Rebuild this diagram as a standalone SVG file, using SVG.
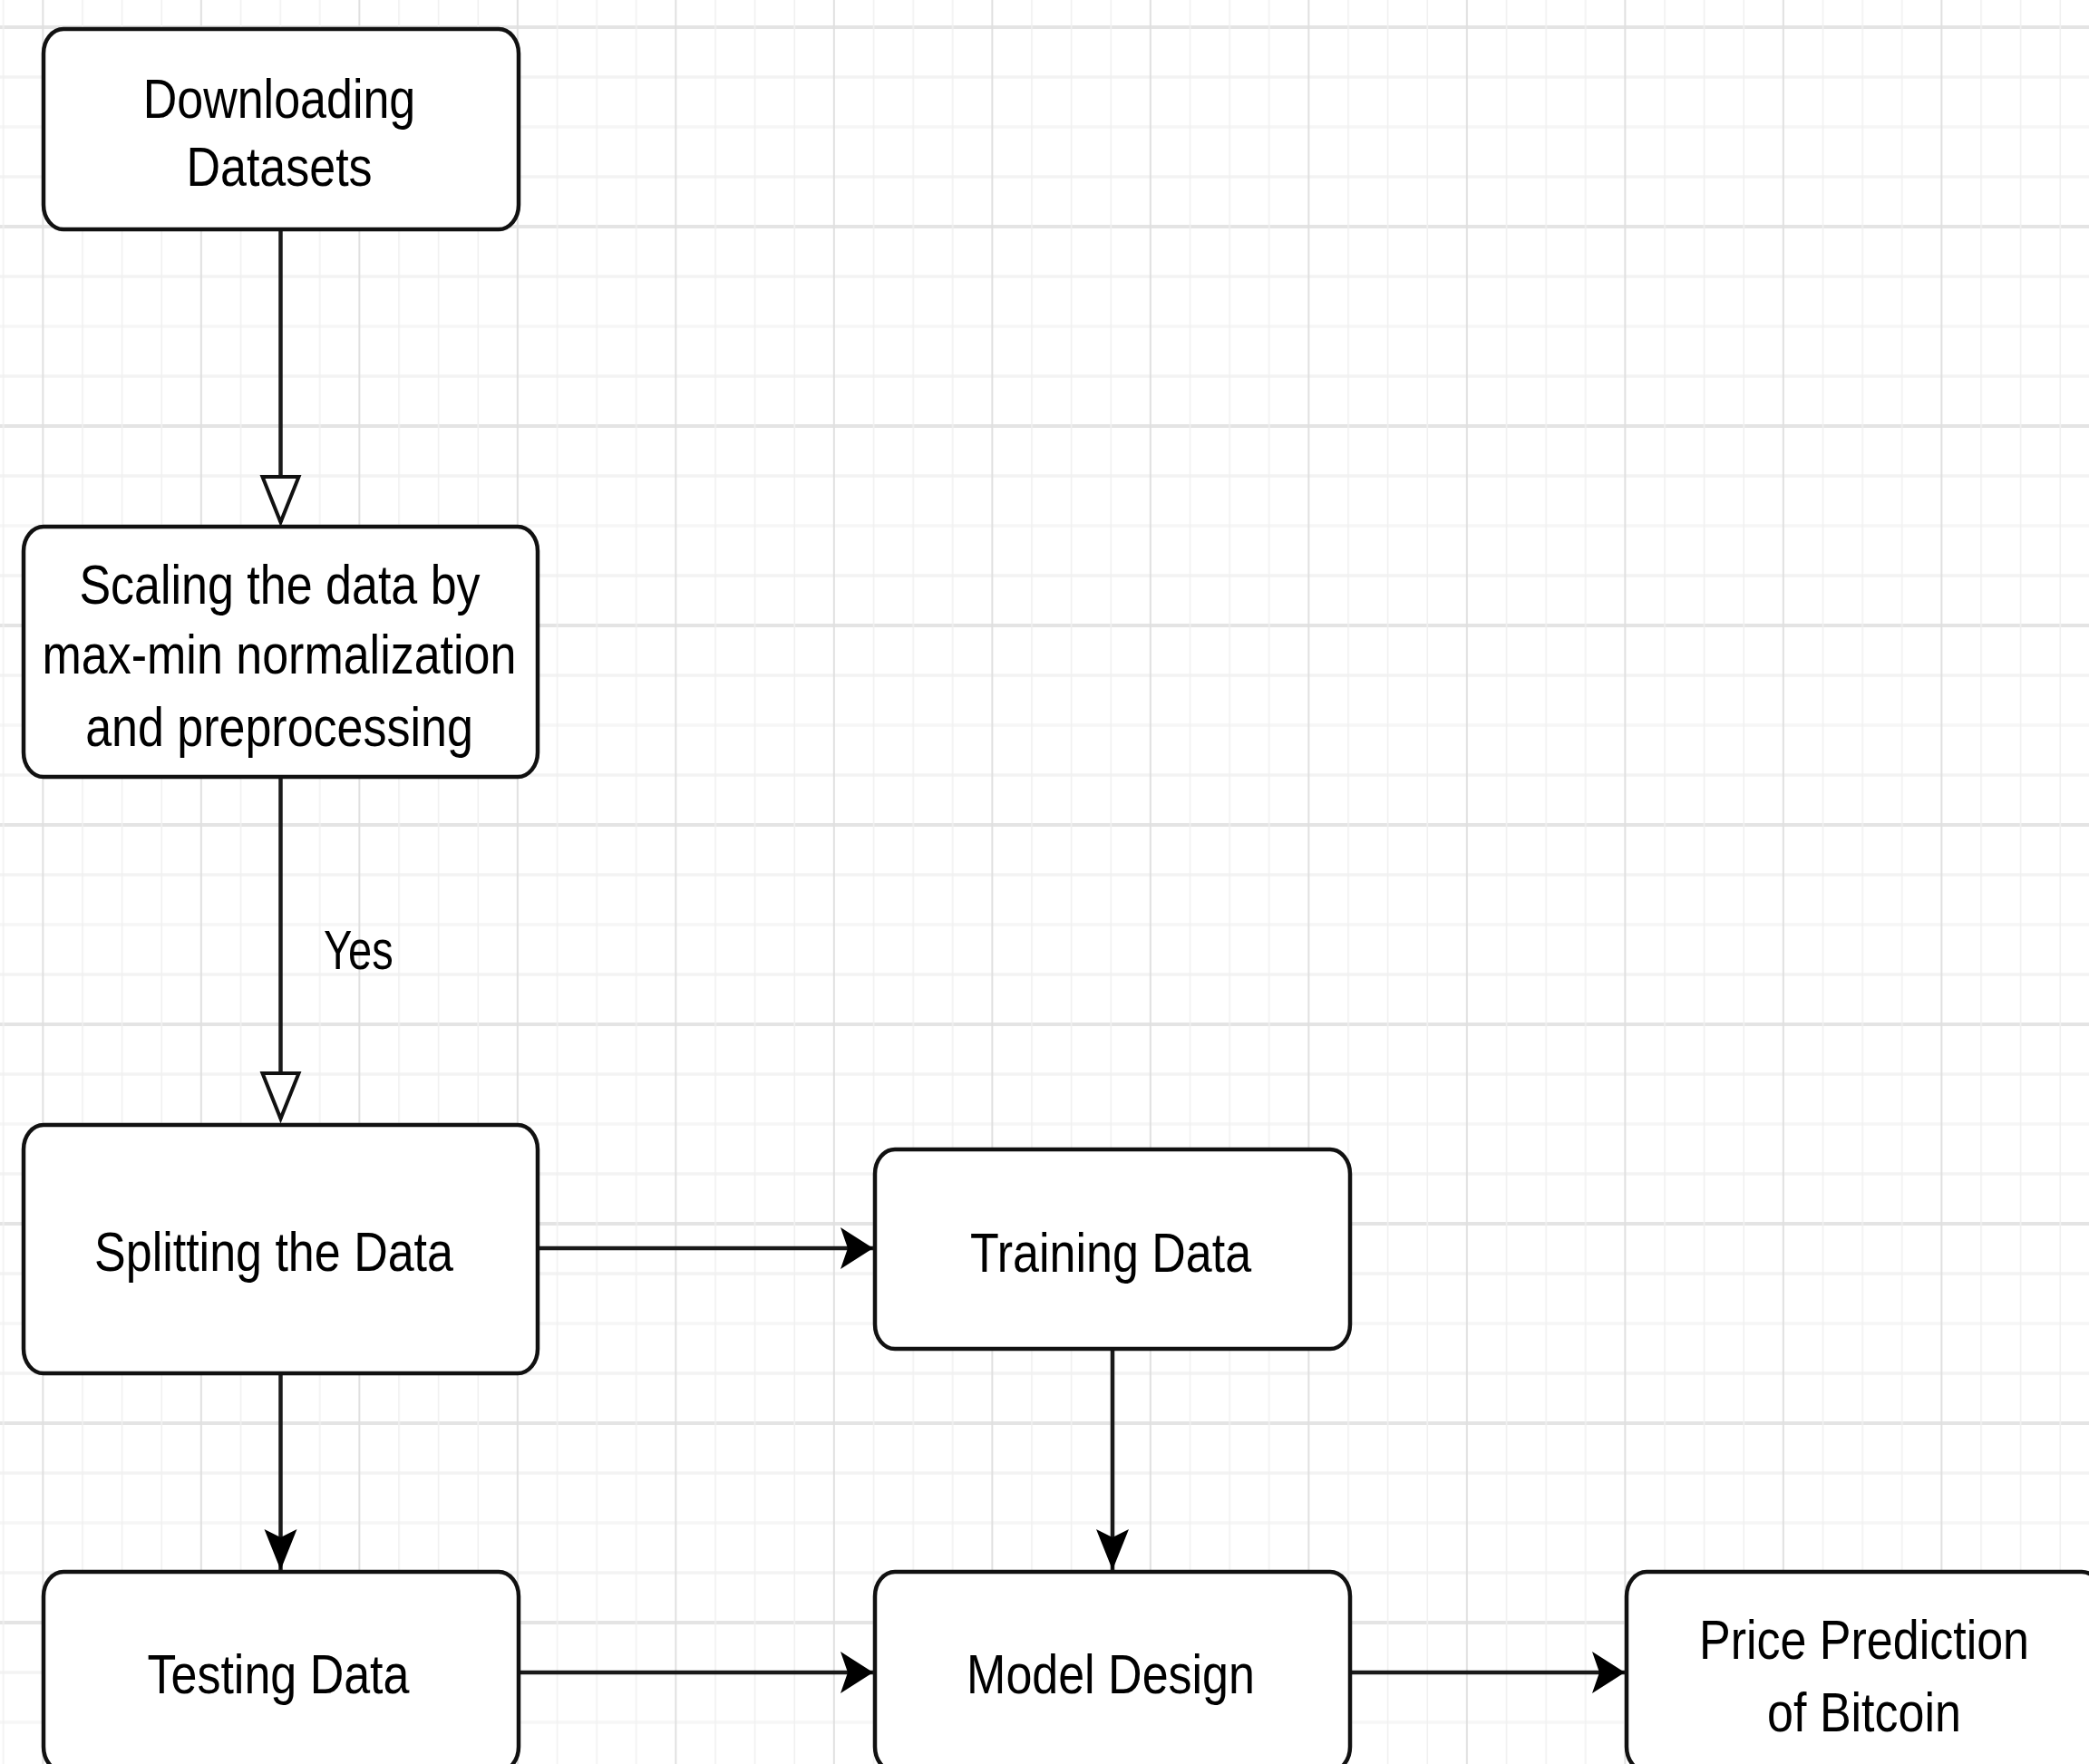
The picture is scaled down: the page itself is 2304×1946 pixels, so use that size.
<svg xmlns="http://www.w3.org/2000/svg" width="2304" height="1946" viewBox="0 0 2304 1946">
  <style>
    .node rect { fill: #ffffff; stroke: #111111; stroke-width: 4.5; }
    .lbl { font-family: "Liberation Sans", Arial, sans-serif; font-size: 52px; fill: #000000; text-anchor: middle; }
    .elbl { font-family: "Liberation Sans", Arial, sans-serif; font-size: 47px; fill: #000000; }
    .edge { fill: none; stroke: #1a1a1a; stroke-width: 4.5; }
  </style>
  <defs>
    <pattern id="gridV" patternUnits="userSpaceOnUse" x="27.4" y="0" width="174.5" height="20">
      <line x1="20" y1="0" x2="20" y2="20" stroke="#e0e0e0" stroke-width="2"/>
      <line x1="63.625" y1="0" x2="63.625" y2="20" stroke="#f0f0f0" stroke-width="1.6"/>
      <line x1="107.25" y1="0" x2="107.25" y2="20" stroke="#f0f0f0" stroke-width="1.6"/>
      <line x1="150.875" y1="0" x2="150.875" y2="20" stroke="#f0f0f0" stroke-width="1.6"/>
    </pattern>
    <pattern id="gridH" patternUnits="userSpaceOnUse" x="0" y="10" width="20" height="220">
      <line x1="0" y1="20" x2="20" y2="20" stroke="#e4e4e4" stroke-width="4"/>
      <line x1="0" y1="75" x2="20" y2="75" stroke="#f3f3f3" stroke-width="3.5"/>
      <line x1="0" y1="130" x2="20" y2="130" stroke="#f6f6f6" stroke-width="3.5"/>
      <line x1="0" y1="185" x2="20" y2="185" stroke="#f3f3f3" stroke-width="3.5"/>
    </pattern>
    <marker id="hollowDown" markerUnits="userSpaceOnUse" orient="auto" markerWidth="80" markerHeight="80" refX="50" refY="0" overflow="visible">
      <path d="M0,-20 L50,0 L0,20 Z" fill="#ffffff" stroke="#111111" stroke-width="4"/>
    </marker>
    <marker id="arrowRight" markerUnits="userSpaceOnUse" orient="auto" markerWidth="60" markerHeight="60" refX="36" refY="0" overflow="visible">
      <path d="M0,-23 L36,0 L0,23 L8,0 Z" fill="#000000"/>
    </marker>
    <marker id="arrowDown" markerUnits="userSpaceOnUse" orient="auto" markerWidth="60" markerHeight="60" refX="45" refY="0" overflow="visible">
      <path d="M0,-18 L45,0 L0,18 L9,0 Z" fill="#000000"/>
    </marker>
  </defs>

  <rect x="0" y="0" width="2304" height="1946" fill="#ffffff"/>
  <rect x="0" y="0" width="2304" height="1946" fill="url(#gridH)"/>
  <rect x="0" y="0" width="2304" height="1946" fill="url(#gridV)"/>

  <g id="connectors">
    <path class="edge" d="M309.5,253 V576" marker-end="url(#hollowDown)"/>
    <path class="edge" d="M309.5,857 V1234" marker-end="url(#hollowDown)"/>
    <path class="edge" d="M593,1377 H963" marker-end="url(#arrowRight)"/>
    <path class="edge" d="M309.5,1515 V1732" marker-end="url(#arrowDown)"/>
    <path class="edge" d="M1227,1488 V1732" marker-end="url(#arrowDown)"/>
    <path class="edge" d="M571,1845 H963" marker-end="url(#arrowRight)"/>
    <path class="edge" d="M1489,1845 H1792" marker-end="url(#arrowRight)"/>
    <text class="elbl" transform="translate(357,1069) scale(1,1.3)" x="0" y="0">Yes</text>
  </g>

  <g id="node-downloading" class="node">
    <rect x="48" y="32" width="524" height="221" rx="22" ry="27"/>
    <text class="lbl" transform="translate(308,130) scale(1,1.16)" x="0" y="0">Downloading</text>
    <text class="lbl" transform="translate(308,205) scale(1,1.16)" x="0" y="0">Datasets</text>
  </g>

  <g id="node-scaling" class="node">
    <rect x="26" y="581" width="567" height="276" rx="22" ry="27"/>
    <text class="lbl" transform="translate(308.5,666) scale(1,1.16)" x="0" y="0">Scaling the data by</text>
    <text class="lbl" transform="translate(308,743) scale(1,1.16)" x="0" y="0">max-min normalization</text>
    <text class="lbl" transform="translate(308,823) scale(1,1.16)" x="0" y="0">and preprocessing</text>
  </g>

  <g id="node-splitting" class="node">
    <rect x="26" y="1241" width="567" height="274" rx="22" ry="27"/>
    <text class="lbl" transform="translate(302,1402) scale(1,1.16)" x="0" y="0">Splitting the Data</text>
  </g>

  <g id="node-training" class="node">
    <rect x="965" y="1268" width="524" height="220" rx="22" ry="27"/>
    <text class="lbl" transform="translate(1225,1403) scale(1,1.16)" x="0" y="0">Training Data</text>
  </g>

  <g id="node-testing" class="node">
    <rect x="48" y="1734" width="524" height="220" rx="22" ry="27"/>
    <text class="lbl" transform="translate(307,1868) scale(1,1.16)" x="0" y="0">Testing Data</text>
  </g>

  <g id="node-model" class="node">
    <rect x="965" y="1734" width="524" height="220" rx="22" ry="27"/>
    <text class="lbl" transform="translate(1225,1868) scale(1,1.16)" x="0" y="0">Model Design</text>
  </g>

  <g id="node-price" class="node">
    <rect x="1794" y="1734" width="524" height="220" rx="22" ry="27"/>
    <text class="lbl" transform="translate(2056,1830) scale(1,1.16)" x="0" y="0">Price Prediction</text>
    <text class="lbl" transform="translate(2056,1910) scale(1,1.16)" x="0" y="0">of Bitcoin</text>
  </g>
</svg>
